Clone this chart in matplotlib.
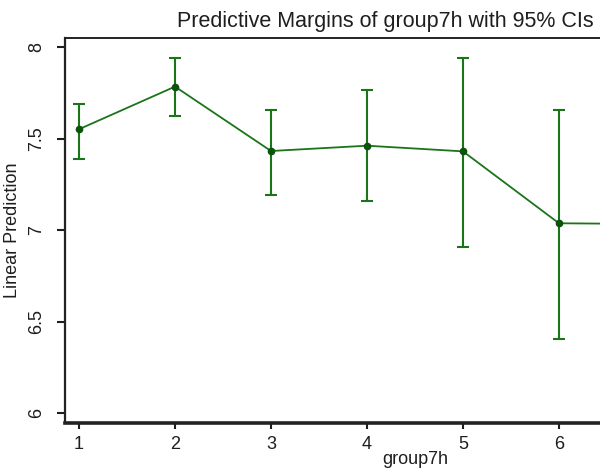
import numpy as np
import matplotlib
matplotlib.use("Agg")
import matplotlib.pyplot as plt

plt.rcParams['font.family'] = ['Liberation Sans', 'DejaVu Sans']

# Data
groups = [1, 2, 3, 4, 5, 6, 7]
margin = [7.553, 7.786, 7.434, 7.463, 7.432, 7.039, 7.035]
ci_low = [7.392, 7.627, 7.196, 7.163, 6.911, 6.405, np.nan]
ci_high = [7.690, 7.942, 7.657, 7.766, 7.942, 7.658, np.nan]
yticks = [6, 6.5, 7, 7.5, 8]
ytick_labels = ["6", "6.5", "7", "7.5", "8"]
xticks = [1, 2, 3, 4, 5, 6]
title = "Predictive Margins of group7h with 95% CIs"
xlabel = "group7h"
ylabel = "Linear Prediction"

W, H = 600, 476
fig = plt.figure(figsize=(W / 100, H / 100), dpi=100)
fig.patch.set_facecolor('white')

# axes extends beyond right edge (reference is cropped)
left_px, right_px, top_px, bottom_px = 65, 669, 38.3, 422.7
ax = fig.add_axes([left_px / W, 1 - bottom_px / H,
                   (right_px - left_px) / W, (bottom_px - top_px) / H])

green = '#1a741a'
dark_green = '#0b520b'

m = np.array(margin)
lo = np.array(ci_low)
hi = np.array(ci_high)
yerr = np.vstack([m - lo, hi - m])

ax.errorbar(groups, margin, yerr=yerr, fmt='none', ecolor=green,
            elinewidth=1.5, capsize=4, capthick=1.5, zorder=2)
ax.plot(groups, margin, color=green, lw=1.3, zorder=3)
ax.plot(groups, margin, 'o', color=dark_green, ms=4.5, zorder=4)

ax.set_xlim(0.854, 7.146)
ax.set_ylim(5.949, 8.05)

ax.set_xticks(xticks)
ax.set_xticklabels([str(x) for x in xticks])
ax.set_yticks(yticks)
ax.set_yticklabels(ytick_labels, rotation=90, va='center')

txt = '#1e1e1e'
ax.tick_params(axis='y', direction='out', length=6, width=1.5, pad=8,
               labelsize=13, colors=txt)
ax.tick_params(axis='x', direction='out', length=4.5, width=1.5, pad=5,
               labelsize=13, colors=txt)

for s in ['top', 'left', 'bottom', 'right']:
    ax.spines[s].set_color('#222222')
ax.spines['left'].set_linewidth(1.6)
ax.spines['top'].set_linewidth(1.4)
ax.spines['bottom'].set_linewidth(2.6)
ax.spines['right'].set_linewidth(1.4)

fig.text(177 / W, 1 - 26.5 / H, title, ha='left', va='baseline',
         fontsize=15.5, color=txt)
fig.text(415 / W, 1 - 459 / H, xlabel, ha='center', va='center',
         fontsize=13, color=txt)
fig.text(13 / W, 1 - 230 / H, ylabel, ha='center', va='center',
         rotation=90, fontsize=13, color=txt)

fig.savefig('out.png', dpi=100, facecolor='white')
